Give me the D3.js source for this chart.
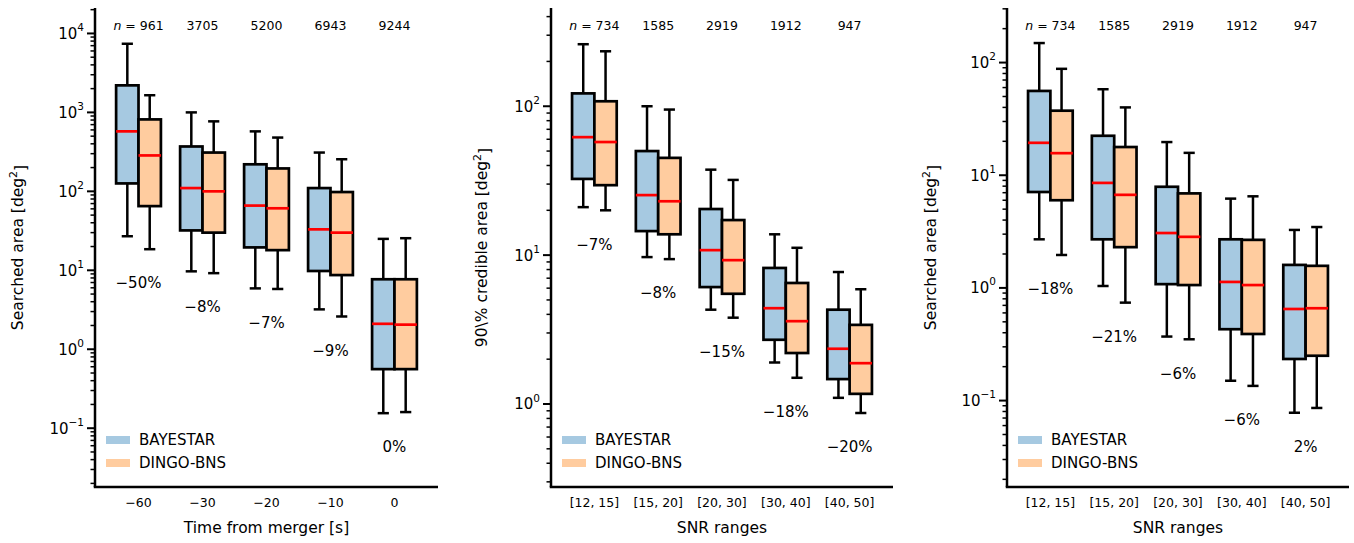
<!DOCTYPE html>
<html lang="en">
<head>
  <meta charset="UTF-8">
  <title>Searched area box plots</title>
  <style>
    body { margin: 0; background: #fff; }
    svg { display: block; font-family: 'DejaVu Sans', sans-serif; }
  </style>
  <script src="https://d3js.org/d3.v7.min.js"></script>
</head>
<body>
  <svg id="chart" width="1354" height="543"></svg>
  <script>
    // box stats are [whisker low, q1, median, q3, whisker high]
    const timeCats = ["\u221260", "\u221230", "\u221220", "\u221210", "0"];
    const timeN = [961, 3705, 5200, 6943, 9244];
    const timePct = ["\u221250%", "\u22128%", "\u22127%", "\u22129%", "0%"];
    const timeBayestar = [[27, 126, 575, 2200, 7400], [9.7, 32, 110, 370, 1000], [5.9, 19.5, 66, 220, 575], [3.2, 9.8, 33, 110, 310], [0.155, 0.56, 2.1, 7.7, 25]];
    const timeDingo = [[18.5, 65, 285, 815, 1650], [9.2, 30, 100, 310, 770], [5.8, 18, 61, 195, 480], [2.6, 8.7, 30, 98, 255], [0.16, 0.56, 2.05, 7.7, 25.5]];

    const snrCats = ["[12, 15]", "[15, 20]", "[20, 30]", "[30, 40]", "[40, 50]"];
    const snrN = [734, 1585, 2919, 1912, 947];

    const credPct = ["\u22127%", "\u22128%", "\u221215%", "\u221218%", "\u221220%"];
    const credBayestar = [[21, 32.5, 62, 122, 261], [9.7, 14.5, 25.3, 50, 100], [4.3, 6.1, 10.8, 20.4, 37.5], [1.9, 2.7, 4.4, 8.2, 13.8], [1.1, 1.47, 2.35, 4.3, 7.7]];
    const credDingo = [[20, 29.5, 57.5, 108, 234], [9.4, 13.8, 23, 45, 95], [3.8, 5.5, 9.25, 17.2, 32], [1.5, 2.2, 3.6, 6.5, 11.2], [0.87, 1.17, 1.88, 3.4, 5.9]];

    const searchPct = ["\u221218%", "\u221221%", "\u22126%", "\u22126%", "2%"];
    const searchBayestar = [[2.7, 7.1, 19.4, 56, 149], [1.04, 2.7, 8.55, 22.4, 58], [0.37, 1.08, 3.07, 7.9, 19.7], [0.15, 0.43, 1.13, 2.7, 6.2], [0.078, 0.234, 0.65, 1.6, 3.27]];
    const searchDingo = [[1.96, 6.0, 15.7, 37.4, 88], [0.74, 2.3, 6.7, 17.8, 40], [0.35, 1.06, 2.84, 6.9, 15.8], [0.135, 0.39, 1.06, 2.67, 6.5], [0.086, 0.25, 0.66, 1.57, 3.47]];

    const seriesNames = ["BAYESTAR", "DINGO-BNS"];
    const seriesColors = ["#a6c9e1", "#ffcc9f"];

    const panels = [
      { left: 95, right: 438, yDomain: [0.018, 2.1e4], cats: timeCats, n: timeN, pct: timePct,
        series: [timeBayestar, timeDingo], xlabel: "Time from merger [s]", ylabel: "Searched area [deg", ylabelX: 18 },
      { left: 551, right: 893, yDomain: [0.277, 457], cats: snrCats, n: snrN, pct: credPct,
        series: [credBayestar, credDingo], xlabel: "SNR ranges", ylabel: "90\\% credible area [deg", ylabelX: 482 },
      { left: 1007, right: 1349, yDomain: [0.0171, 305], cats: snrCats, n: snrN, pct: searchPct,
        series: [searchBayestar, searchDingo], xlabel: "SNR ranges", ylabel: "Searched area [deg", ylabelX: 931 }
    ];

    const plotTop = 8, plotBottom = 487;
    const boxOffset = 0.175, boxWidth = 0.35;
    const svg = d3.select("#chart");

    panels.forEach(p => {
      const g = svg.append("g");
      const x = d3.scaleLinear().domain([-0.68, p.cats.length - 0.32]).range([p.left, p.right]);
      const y = d3.scaleLog().domain(p.yDomain).range([plotBottom, plotTop]);
      const bw = x(boxWidth) - x(0);

      // boxes
      p.series.forEach((stats, s) => {
        const off = s === 0 ? -boxOffset : boxOffset;
        stats.forEach((d, i) => {
          const cx = x(i + off);
          const [lo, q1, med, q3, hi] = d;
          const bg = g.append("g");
          bg.append("line").attr("x1", cx).attr("x2", cx).attr("y1", y(q3)).attr("y2", y(hi))
            .attr("stroke", "#000").attr("stroke-width", 2.5);
          bg.append("line").attr("x1", cx).attr("x2", cx).attr("y1", y(q1)).attr("y2", y(lo))
            .attr("stroke", "#000").attr("stroke-width", 2.5);
          [lo, hi].forEach(v => {
            bg.append("line").attr("x1", cx - bw / 4).attr("x2", cx + bw / 4)
              .attr("y1", y(v)).attr("y2", y(v)).attr("stroke", "#000").attr("stroke-width", 2.5);
          });
          bg.append("rect").attr("x", cx - bw / 2).attr("width", bw)
            .attr("y", y(q3)).attr("height", y(q1) - y(q3))
            .attr("fill", seriesColors[s]).attr("stroke", "#000").attr("stroke-width", 2.7);
          bg.append("line").attr("x1", cx - bw / 2).attr("x2", cx + bw / 2)
            .attr("y1", y(med)).attr("y2", y(med)).attr("stroke", "#ff0000").attr("stroke-width", 2.7);
        });
      });

      // n labels
      p.n.forEach((v, i) => {
        const t = g.append("text").attr("x", x(i)).attr("y", 29.5)
          .attr("text-anchor", "middle").attr("font-size", 12.5);
        if (i === 0) {
          t.append("tspan").attr("font-style", "italic").text("n");
          t.append("tspan").text(" = " + v);
        } else {
          t.text(v);
        }
      });

      // percent labels below the lowest whisker
      p.pct.forEach((lab, i) => {
        const lowest = Math.min(p.series[0][i][0], p.series[1][i][0]);
        g.append("text").attr("x", x(i)).attr("y", y(lowest) + 34).attr("dy", "0.35em")
          .attr("text-anchor", "middle").attr("font-size", 15).text(lab);
      });

      // y axis: spine, major and minor ticks
      g.append("line").attr("x1", p.left).attr("x2", p.left).attr("y1", plotTop).attr("y2", plotBottom)
        .attr("stroke", "#000").attr("stroke-width", 2.5);
      const kMin = Math.floor(Math.log10(p.yDomain[0])), kMax = Math.ceil(Math.log10(p.yDomain[1]));
      for (let k = kMin; k <= kMax; k++) {
        for (let m = 1; m <= 9; m++) {
          const v = m * Math.pow(10, k);
          if (v < p.yDomain[0] || v > p.yDomain[1]) continue;
          const len = m === 1 ? 8 : 4.5;
          g.append("line").attr("x1", p.left - len).attr("x2", p.left).attr("y1", y(v)).attr("y2", y(v))
            .attr("stroke", "#000").attr("stroke-width", m === 1 ? 2 : 1.5);
          if (m === 1) {
            const t = g.append("text").attr("x", p.left - 11).attr("y", y(v)).attr("dy", "0.36em")
              .attr("text-anchor", "end").attr("font-size", 15);
            t.append("tspan").text("10");
            t.append("tspan").attr("font-size", 10.5).attr("dy", "-0.75em")
              .text(k < 0 ? "\u2212" + (-k) : String(k));
          }
        }
      }

      // x axis: spine and labels without tick marks
      g.append("line").attr("x1", p.left - 1.25).attr("x2", p.right).attr("y1", plotBottom).attr("y2", plotBottom)
        .attr("stroke", "#000").attr("stroke-width", 2.5);
      p.cats.forEach((c, i) => {
        g.append("text").attr("x", x(i)).attr("y", 503).attr("dy", "0.35em")
          .attr("text-anchor", "middle").attr("font-size", 12.5).text(c);
      });
      g.append("text").attr("x", (p.left + p.right) / 2).attr("y", 528).attr("dy", "0.35em")
        .attr("text-anchor", "middle").attr("font-size", 15.5).text(p.xlabel);

      // y label
      const yl = g.append("text")
        .attr("transform", `translate(${p.ylabelX},${(plotTop + plotBottom) / 2}) rotate(-90)`)
        .attr("dy", "0.35em").attr("text-anchor", "middle").attr("font-size", 15.5);
      yl.append("tspan").text(p.ylabel);
      yl.append("tspan").attr("font-size", 11).attr("dy", "-0.6em").text("2");
      yl.append("tspan").attr("dy", "0.6em").text("]");

      // legend
      seriesNames.forEach((name, s) => {
        const cy = 440 + s * 23;
        g.append("rect").attr("x", p.left + 11).attr("y", cy - 4).attr("width", 24).attr("height", 8)
          .attr("fill", seriesColors[s]);
        g.append("text").attr("x", p.left + 44).attr("y", cy).attr("dy", "0.35em")
          .attr("font-size", 15).text(name);
      });
    });
  </script>
</body>
</html>
